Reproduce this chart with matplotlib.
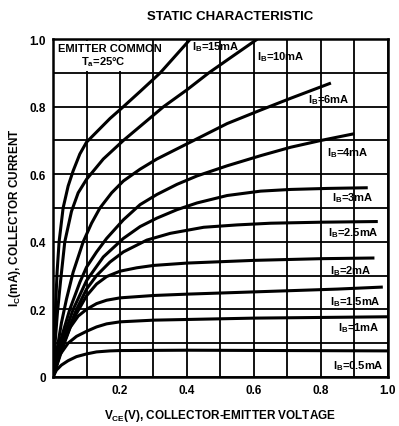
import numpy as np
import matplotlib.pyplot as plt
from matplotlib.patches import Rectangle

# output characteristic curves, Vce (V) vs Ic (mA)
vce_15 = [0, 0.004, 0.008, 0.012, 0.018, 0.03, 0.045, 0.06, 0.08, 0.1, 0.13, 0.17, 0.21, 0.26, 0.32, 0.41]
ic_15 = [0, 0.12, 0.22, 0.31, 0.40, 0.50, 0.565, 0.61, 0.66, 0.695, 0.725, 0.765, 0.80, 0.845, 0.90, 1.0]

vce_10 = [0, 0.006, 0.013, 0.022, 0.035, 0.055, 0.075, 0.1, 0.15, 0.21, 0.27, 0.33, 0.40, 0.465, 0.53, 0.61]
ic_10 = [0, 0.10, 0.19, 0.28, 0.40, 0.49, 0.545, 0.585, 0.645, 0.70, 0.75, 0.80, 0.85, 0.90, 0.945, 1.0]

vce_6 = [0, 0.01, 0.025, 0.04, 0.06, 0.09, 0.115, 0.14, 0.175, 0.21, 0.26, 0.31, 0.37, 0.43, 0.52, 0.62, 0.71, 0.83]
ic_6 = [0, 0.07, 0.16, 0.23, 0.31, 0.40, 0.455, 0.50, 0.545, 0.58, 0.615, 0.645, 0.675, 0.705, 0.75, 0.79, 0.825, 0.87]

vce_4 = [0, 0.02, 0.05, 0.08, 0.1, 0.13, 0.16, 0.21, 0.26, 0.31, 0.37, 0.43, 0.52, 0.62, 0.71, 0.80, 0.90]
ic_4 = [0, 0.10, 0.20, 0.28, 0.325, 0.37, 0.41, 0.465, 0.51, 0.54, 0.57, 0.595, 0.625, 0.655, 0.68, 0.70, 0.72]

vce_3 = [0, 0.025, 0.06, 0.1, 0.15, 0.21, 0.26, 0.31, 0.37, 0.43, 0.52, 0.62, 0.71, 0.82, 0.94]
ic_3 = [0, 0.10, 0.20, 0.285, 0.355, 0.41, 0.445, 0.47, 0.495, 0.515, 0.537, 0.55, 0.555, 0.558, 0.56]

vce_25 = [0, 0.03, 0.07, 0.1, 0.13, 0.17, 0.21, 0.28, 0.35, 0.45, 0.55, 0.65, 0.80, 0.97]
ic_25 = [0, 0.10, 0.20, 0.26, 0.30, 0.34, 0.37, 0.405, 0.425, 0.443, 0.45, 0.455, 0.458, 0.46]

vce_2 = [0, 0.03, 0.06, 0.1, 0.13, 0.16, 0.2, 0.25, 0.3, 0.4, 0.6, 0.8, 0.96]
ic_2 = [0, 0.09, 0.17, 0.24, 0.275, 0.297, 0.313, 0.323, 0.33, 0.337, 0.345, 0.35, 0.352]

vce_15b = [0, 0.02, 0.05, 0.075, 0.1, 0.13, 0.16, 0.2, 0.3, 0.4, 0.55, 0.7, 0.85, 0.985]
ic_15b = [0, 0.07, 0.145, 0.18, 0.20, 0.217, 0.227, 0.234, 0.241, 0.245, 0.25, 0.255, 0.26, 0.266]

vce_1 = [0, 0.02, 0.045, 0.07, 0.1, 0.13, 0.16, 0.2, 0.3, 0.4, 0.6, 0.8, 1.0]
ic_1 = [0, 0.065, 0.10, 0.12, 0.135, 0.148, 0.157, 0.163, 0.168, 0.17, 0.174, 0.176, 0.178]

vce_05 = [0, 0.01, 0.025, 0.045, 0.07, 0.1, 0.13, 0.17, 0.2, 0.4, 0.7, 1.0]
ic_05 = [0, 0.02, 0.035, 0.048, 0.06, 0.068, 0.074, 0.077, 0.078, 0.079, 0.078, 0.077]

curves = [(vce_15, ic_15), (vce_10, ic_10), (vce_6, ic_6), (vce_4, ic_4),
          (vce_3, ic_3), (vce_25, ic_25), (vce_2, ic_2), (vce_15b, ic_15b),
          (vce_1, ic_1), (vce_05, ic_05)]

ib_labels = ['15mA', '10mA', '6mA', '4mA', '3mA', '2.5mA', '2mA', '1.5mA', '1mA', '0.5mA']
label_x = [0.415, 0.609, 0.761, 0.818, 0.833, 0.821, 0.827, 0.827, 0.851, 0.836]
label_y = [0.979, 0.950, 0.822, 0.666, 0.533, 0.429, 0.317, 0.225, 0.148, 0.036]

plt.rcParams['font.family'] = ['Liberation Sans', 'DejaVu Sans']
plt.rcParams['font.weight'] = 'bold'

fig = plt.figure(figsize=(3.99, 4.27), dpi=100)
ax = fig.add_axes([0.133, 0.115, 0.839, 0.791])

for x, y in curves:
    ax.plot(x, y, color='black', lw=2.2, solid_joinstyle='round',
            solid_capstyle='butt', zorder=3)

for lab, lx, ly in zip(ib_labels, label_x, label_y):
    ax.text(lx, ly, r'I$_\mathregular{B}$=' + lab, fontsize=8, fontweight='bold',
            ha='left', va='center', zorder=4)

# blank area behind the condition text
ax.add_patch(Rectangle((0.005, 0.905), 0.285, 0.09, facecolor='white',
                       edgecolor='none', zorder=1.8))
ax.text(0.015, 0.975, 'EMITTER COMMON', fontsize=8, fontweight='bold',
        ha='left', va='center', zorder=4)
ax.text(0.15, 0.935, r'T$_\mathregular{a}$=25°C', fontsize=8, fontweight='bold',
        ha='center', va='center', zorder=4)

ax.set_xlim(0, 1.0)
ax.set_ylim(0, 1.0)
ticks = np.arange(0, 1.01, 0.1)
ax.set_xticks(ticks)
ax.set_yticks(ticks)
ax.set_xticklabels(['', '', '0.2', '', '0.4', '', '0.6', '', '0.8', '', '1.0'])
ax.set_yticklabels(['0', '', '0.2', '', '0.4', '', '0.6', '', '0.8', '', '1.0'])
ax.tick_params(length=0, labelsize=8.5, pad=5)
ax.grid(True, color='black', lw=1.3)
for s in ax.spines.values():
    s.set_linewidth(1.8)

ax.set_xlabel(r'V$_\mathregular{CE}$(V), COLLECTOR-EMITTER VOLTAGE', fontsize=8.5,
              fontweight='bold')
ax.xaxis.set_label_coords(0.5, -0.088)
ax.set_ylabel(r'I$_\mathregular{C}$(mA), COLLECTOR CURRENT', fontsize=8.5,
              fontweight='bold')
ax.yaxis.set_label_coords(-0.09, 0.473)

fig.text(0.576, 0.96, 'STATIC CHARACTERISTIC', fontsize=9.5, fontweight='bold',
         ha='center', va='center')

fig.savefig('out.png', dpi=100)
